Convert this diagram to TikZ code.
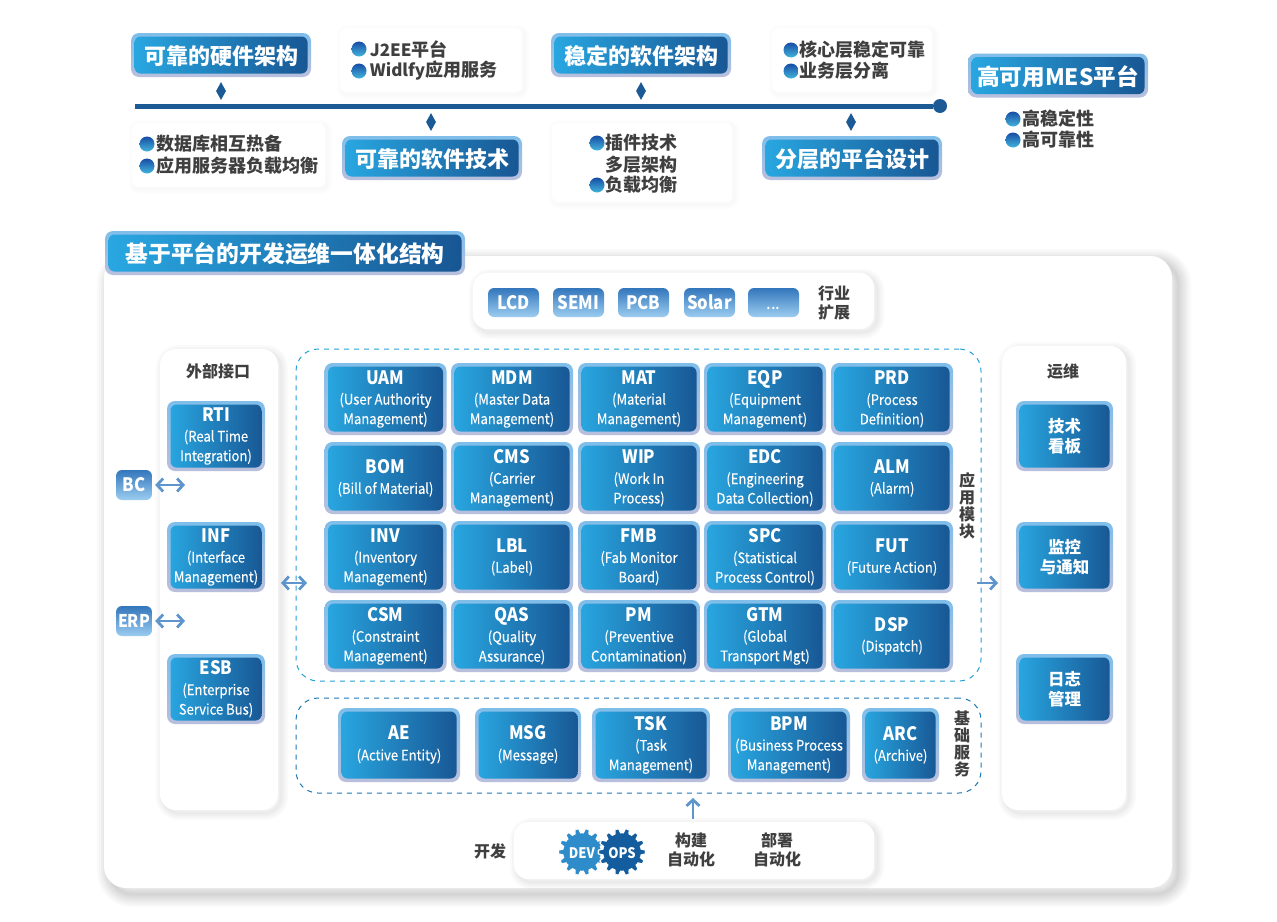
\documentclass[tikz,border=0pt]{standalone}
\usepackage{fontspec}
\setmainfont{Noto Sans CJK SC}
\newfontfamily\descfont[FakeStretch=0.9,FakeBold=0.2]{Noto Sans CJK SC}
\newfontfamily\titlefont[FakeStretch=0.9]{Noto Sans CJK SC}
\usepackage{tikz}
\usetikzlibrary{positioning, arrows.meta, calc, shapes.geometric}

\definecolor{lineblue}{HTML}{1C5A96}
\definecolor{gradleft}{HTML}{29A8E2}
\definecolor{gradmid}{HTML}{1C79B6}
\definecolor{gradright}{HTML}{175592}
\definecolor{rimtop}{HTML}{7FBEEA}
\definecolor{rimbot}{HTML}{B9BFDD}
\definecolor{inktext}{HTML}{3F3F3F}
\definecolor{arrowblue}{HTML}{5E95CC}
\definecolor{tagtop}{HTML}{3376BC}
\definecolor{tagbot}{HTML}{9CCDF0}
\definecolor{devgear}{HTML}{2E8CCB}
\definecolor{opsgear}{HTML}{135C9E}

\newcommand{\modtitle}[1]{{\titlefont\fontsize{18.5}{22}\selectfont\bfseries #1}\\[1pt]}

\tikzset{
    shadowlayer/.style args={#1/#2/#3}{preaction={draw=black, draw opacity=#3, line width=#1,
        transform canvas={xshift=#2, yshift=-#2}}},
    mainshadow/.style={shadowlayer=26pt/6pt/0.02, shadowlayer=22pt/6pt/0.022, shadowlayer=18pt/6pt/0.024, shadowlayer=14pt/6pt/0.026,
        shadowlayer=10pt/6pt/0.028, shadowlayer=6pt/6pt/0.028, shadowlayer=3pt/6pt/0.028},
    softshadow/.style={shadowlayer=14pt/3pt/0.02, shadowlayer=10pt/3pt/0.02, shadowlayer=6pt/3pt/0.02, shadowlayer=3pt/3pt/0.02},
    faintshadow/.style={shadowlayer=10pt/2pt/0.009, shadowlayer=7pt/2pt/0.009, shadowlayer=4pt/2pt/0.009},
    panel/.style={fill=white, rounded corners=#1, softshadow, inner sep=0pt},
    panel/.default=8,
    cardpanel/.style={fill=white, rounded corners=6, faintshadow, inner sep=0pt},
    modbox/.style={rounded corners=8, top color=rimtop, bottom color=rimbot, text=white,
        align=center, inner sep=0pt, font=\descfont\fontsize{14.5}{19.5}\selectfont,
        execute at begin node={\rule{0pt}{21pt}},
        path picture={\shade[left color=gradleft, middle color=gradmid, right color=gradright, rounded corners=6]
            ([xshift=3.5pt,yshift=3.5pt]path picture bounding box.south west) rectangle
            ([xshift=-3.5pt,yshift=-3.5pt]path picture bounding box.north east);}},
    headbox/.style={modbox, minimum width=180, minimum height=44, text height=19.5pt, text depth=0pt,
        execute at begin node={},
        font=\normalfont\fontsize{22}{26}\selectfont\bfseries},
    cellbox/.style={modbox, minimum width=122, minimum height=72},
    sidebox/.style={modbox, minimum width=98, minimum height=70},
    opsbox/.style={modbox, minimum width=97, minimum height=70, font=\normalfont\fontsize{16.5}{20}\selectfont\bfseries},
    tagbox/.style={rounded corners=6, top color=tagtop, bottom color=tagbot, text=white, inner sep=0pt,
        text height=13pt, text depth=0pt, font=\titlefont\fontsize{18.5}{20}\selectfont\bfseries},
    dotmark/.style={circle, minimum size=15, inner sep=0pt, top color=lineblue!85!blue, bottom color=arrowblue!70!cyan},
    cardtext/.style={text=inktext, inner sep=0pt, font=\fontsize{18}{21}\selectfont\bfseries},
    inktag/.style={text=inktext, inner sep=0pt, align=center, font=\fontsize{16}{19}\selectfont\bfseries},
    tickmark/.style={diamond, fill=lineblue, aspect=0.5, minimum width=10, minimum height=18, inner sep=0pt},
    dashbox/.style={draw=#1, dash pattern=on 5pt off 5pt, line width=1pt, rounded corners=22},
    flow/.style={draw=arrowblue, line width=2.8pt},
    flowtip/.style={{Straight Barb[length=6pt,width=13pt]}-{Straight Barb[length=6pt,width=13pt]}, flow},
    flowhead/.style={-{Straight Barb[length=6pt,width=13pt]}, flow},
    gear/.style={draw=white, line width=1.2pt, fill=#1, domain=0:360, samples=337},
}

\begin{document}
\begin{tikzpicture}[x=1pt, y=-1pt]
    \useasboundingbox (0,0) rectangle (1277,921);

    % Draw the timeline
    \coordinate (linestart) at (135,106);
    \node[circle, fill=lineblue, minimum size=14, inner sep=0pt] (lineend) at (940,106) {};
    \draw[line width=5pt, lineblue] (linestart) -- (lineend);
    \node[tickmark] (tickone) at (221,91) {};
    \node[tickmark] (ticktwo) at (431,122) {};
    \node[tickmark] (tickthree) at (641,91) {};
    \node[tickmark] (tickfour) at (851,122) {};

    % Draw the top headings
    \node[headbox] (hardware) at (221,55) {可靠的硬件架构};
    \node[headbox] (software) at (641,55) {稳定的软件架构};
    \node[headbox] (softtech) at (432,158) {可靠的软件技术};
    \node[headbox] (layered) at (852,158) {分层的平台设计};
    \node[headbox, font=\normalfont\fontsize{22.6}{26}\selectfont\bfseries] (mesplat) at (1058,75.5) {高可用MES平台};

    % Draw the white cards
    \node[cardpanel, minimum width=182, minimum height=64] (jcard) at (431,60) {};
    \node[cardpanel, minimum width=160, minimum height=64] (corecard) at (852,60) {};
    \node[cardpanel, minimum width=193, minimum height=64] (dbcard) at (228.5,155) {};
    \node[cardpanel, minimum width=180, minimum height=79] (plugcard) at (642,162.5) {};

    \node[dotmark] (dotja) at (359,49) {};
    \node[cardtext, right=3pt of dotja, font=\fontsize{17}{21}\selectfont\bfseries] (textja) {J2EE{\fontsize{18}{21}\selectfont 平台}};
    \node[dotmark] (dotjb) at (359,71) {};
    \node[cardtext, right=3pt of dotjb, font=\fontsize{17}{21}\selectfont\bfseries] (textjb) {Widlfy{\fontsize{18}{21}\selectfont 应用服务}};

    \node[dotmark] (dotca) at (791,50) {};
    \node[cardtext, right=1pt of dotca] (textca) {核心层稳定可靠};
    \node[dotmark] (dotcb) at (791,71) {};
    \node[cardtext, right=1pt of dotcb] (textcb) {业务层分离};

    \node[dotmark] (dotda) at (147,144) {};
    \node[cardtext, right=2pt of dotda] (textda) {数据库相互热备};
    \node[dotmark] (dotdb) at (147,166) {};
    \node[cardtext, right=2pt of dotdb] (textdb) {应用服务器负载均衡};

    \node[dotmark] (dotpa) at (597,143) {};
    \node[cardtext, right=1pt of dotpa] (textpa) {插件技术};
    \node[cardtext, below=4pt of textpa] (textpb) {多层架构};
    \node[dotmark] (dotpc) at (597,185) {};
    \node[cardtext, right=1pt of dotpc] (textpc) {负载均衡};

    \node[dotmark] (dotma) at (1013,119) {};
    \node[cardtext, right=2pt of dotma] (textma) {高稳定性};
    \node[dotmark] (dotmb) at (1013,140) {};
    \node[cardtext, right=2pt of dotmb] (textmb) {高可靠性};

    % Draw the main panel
    \node[fill=white, rounded corners=22, mainshadow, inner sep=0pt, minimum width=1068, minimum height=632] (mainpanel) at (638,572) {};
    \node[headbox, minimum width=360, font=\normalfont\fontsize{22.8}{26}\selectfont\bfseries] (mainhead) at (285,253) {基于平台的开发运维一体化结构};

    % Draw the industry row
    \node[panel=14, minimum width=401, minimum height=56] (indcard) at (673.5,301) {};
    \node[tagbox, minimum width=51, minimum height=29] (lcd) at (513.5,302.5) {LCD};
    \node[tagbox, minimum width=51, minimum height=29] (semi) at (578.5,302.5) {SEMI};
    \node[tagbox, minimum width=51, minimum height=29] (pcb) at (643.5,302.5) {PCB};
    \node[tagbox, minimum width=51, minimum height=29] (solar) at (709.5,302.5) {Solar};
    \node[tagbox, minimum width=51, minimum height=29] (more) at (773.5,302.5) {\mdseries ...};
    \node[inktag] (industry) at (834,302.5) {行业\\扩展};

    % Draw the side panels
    \node[panel=16, minimum width=118, minimum height=461] (leftpanel) at (219,579.5) {};
    \node[panel=16, minimum width=124, minimum height=464] (rightpanel) at (1064,578) {};
    \node[inktag] (external) at (218,371) {外部接口};
    \node[inktag] (operate) at (1063,371) {运维};

    \node[sidebox] (rti) at (216,436) {\modtitle{RTI}(Real Time\\Integration)};
    \node[sidebox] (inf) at (216,557) {\modtitle{INF}(Interface\\Management)};
    \node[sidebox] (esb) at (216,689) {\modtitle{ESB}(Enterprise\\Service Bus)};

    \node[opsbox] (board) at (1064.5,436) {技术\\看板};
    \node[opsbox] (monitor) at (1064.5,557) {监控\\与通知};
    \node[opsbox] (logs) at (1064.5,689) {日志\\管理};

    \node[tagbox, minimum width=36, minimum height=30] (bc) at (134,485) {BC};
    \node[tagbox, minimum width=36, minimum height=30, font=\titlefont\fontsize{17.5}{19}\selectfont\bfseries] (erp) at (134,621) {ERP};

    % Draw the dashed regions
    \node[dashbox=gradleft!80!gradmid, minimum width=685, minimum height=332] (appregion) at (638.5,515) {};
    \node[dashbox=gradmid, minimum width=685, minimum height=95] (baseregion) at (638.5,745.5) {};
    \node[inktag, font=\fontsize{16}{17}\selectfont\bfseries] (applabel) at (967,505.5) {应\\用\\模\\块};
    \node[inktag, font=\fontsize{16}{17}\selectfont\bfseries] (baselabel) at (962,744) {基\\础\\服\\务};

    % Draw the application modules
    \node[cellbox] (uam) at (385.5,399) {\modtitle{UAM}(User Authority\\Management)};
    \node[cellbox] (mdm) at (512,399) {\modtitle{MDM}(Master Data\\Management)};
    \node[cellbox] (mat) at (639,399) {\modtitle{MAT}(Material\\Management)};
    \node[cellbox] (eqp) at (765,399) {\modtitle{EQP}(Equipment\\Management)};
    \node[cellbox] (prd) at (892,399) {\modtitle{PRD}(Process\\Definition)};

    \node[cellbox] (bom) at (385.5,478) {\modtitle{BOM}(Bill of Material)};
    \node[cellbox] (cms) at (512,478) {\modtitle{CMS}(Carrier\\Management)};
    \node[cellbox] (wip) at (639,478) {\modtitle{WIP}(Work In\\Process)};
    \node[cellbox] (edc) at (765,478) {\modtitle{EDC}(Engineering\\Data Collection)};
    \node[cellbox] (alm) at (892,478) {\modtitle{ALM}(Alarm)};

    \node[cellbox] (inv) at (385.5,557) {\modtitle{INV}(Inventory\\Management)};
    \node[cellbox] (lbl) at (512,557) {\modtitle{LBL}(Label)};
    \node[cellbox] (fmb) at (639,557) {\modtitle{FMB}(Fab Monitor\\Board)};
    \node[cellbox] (spc) at (765,557) {\modtitle{SPC}(Statistical\\Process Control)};
    \node[cellbox] (fut) at (892,557) {\modtitle{FUT}(Future Action)};

    \node[cellbox] (csm) at (385.5,636) {\modtitle{CSM}(Constraint\\Management)};
    \node[cellbox] (qas) at (512,636) {\modtitle{QAS}(Quality\\Assurance)};
    \node[cellbox] (pm) at (639,636) {\modtitle{PM}(Preventive\\Contamination)};
    \node[cellbox] (gtm) at (765,636) {\modtitle{GTM}(Global\\Transport Mgt)};
    \node[cellbox] (dsp) at (892,636) {\modtitle{DSP}(Dispatch)};

    % Draw the base services
    \node[cellbox, minimum width=122, minimum height=74] (ae) at (399,745) {\modtitle{AE}(Active Entity)};
    \node[cellbox, minimum width=106, minimum height=74] (msg) at (528,745) {\modtitle{MSG}(Message)};
    \node[cellbox, minimum width=118, minimum height=74] (tsk) at (651,745) {\modtitle{TSK}(Task\\Management)};
    \node[cellbox, minimum width=122, minimum height=74] (bpm) at (789,745) {\modtitle{BPM}(Business Process\\Management)};
    \node[cellbox, minimum width=77, minimum height=74] (arc) at (900.5,745) {\modtitle{ARC}(Archive)};

    % Draw the development row
    \node[inktag] (devlabel) at (490,851) {开发};
    \node[panel=14, minimum width=360, minimum height=57] (devcard) at (694,850.5) {};
    \node[inktag] (build) at (691,849.5) {构建\\自动化};
    \node[inktag] (deploy) at (777,849.5) {部署\\自动化};

    % Draw the gears
    \draw[gear=devgear] plot ({582+(21.5+2.6*(cos(14*\x)-0.28*cos(42*\x)))*cos(\x)}, {852+(21.5+2.6*(cos(14*\x)-0.28*cos(42*\x)))*sin(\x)}) -- cycle;
    \draw[gear=opsgear] plot ({622+(21.5+2.6*(cos(14*\x)-0.28*cos(42*\x)))*cos(\x)}, {852+(21.5+2.6*(cos(14*\x)-0.28*cos(42*\x)))*sin(\x)}) -- cycle;
    \node[text=white, inner sep=0pt, font=\titlefont\fontsize{14.5}{17}\selectfont\bfseries] (devtag) at (582,853) {DEV};
    \node[text=white, inner sep=0pt, font=\titlefont\fontsize{14.5}{17}\selectfont\bfseries] (opstag) at (622,853) {OPS};

    % Draw the arrows
    \coordinate (bcend) at (185,485);
    \coordinate (erpend) at (185,621);
    \coordinate (midstart) at (281,583);
    \coordinate (midend) at (307,583);
    \coordinate (outstart) at (977,583);
    \coordinate (outend) at (998,583);
    \coordinate (upstart) at (693,819);
    \coordinate (upend) at (693,798);
    \draw[flowtip, shorten <=3pt] (bc.east) -- (bcend);
    \draw[flowtip, shorten <=3pt] (erp.east) -- (erpend);
    \draw[flowtip] (midstart) -- (midend);
    \draw[flowhead] (outstart) -- (outend);
    \draw[flowhead] (upstart) -- (upend);
\end{tikzpicture}
\end{document}
